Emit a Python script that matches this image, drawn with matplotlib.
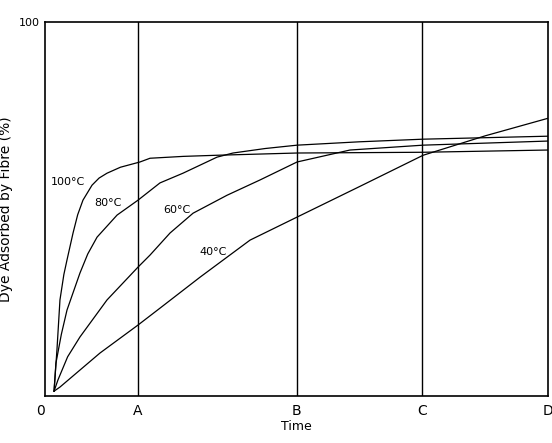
import matplotlib.pyplot as plt

# tiempo (0..D) y colorante adsorbido (%)
t100 = [0.072, 0.095, 0.119, 0.150, 0.175, 0.223, 0.260, 0.302, 0.374, 0.430, 0.493, 0.600, 0.755, 0.835, 1.100, 1.368, 2.004, 3.006, 4.0]
y100 = [1.3, 12.3, 25.7, 32.5, 36.4, 43.6, 48.5, 52.4, 56.4, 58.3, 59.6, 61.2, 62.6, 63.6, 64.1, 64.4, 65.0, 65.2, 65.8]

t80 = [0.072, 0.087, 0.130, 0.175, 0.278, 0.340, 0.414, 0.573, 0.740, 0.914, 1.097, 1.368, 1.495, 1.750, 2.004, 2.500, 3.006, 4.0]
y80 = [1.3, 8.8, 16.5, 23.0, 32.9, 38.0, 42.5, 48.4, 52.4, 57.0, 59.6, 63.9, 65.0, 66.2, 67.1, 68.0, 68.7, 69.5]

t60 = [0.072, 0.103, 0.180, 0.278, 0.493, 0.740, 0.835, 0.994, 1.177, 1.447, 1.710, 2.004, 2.425, 3.006, 4.0]
y60 = [1.3, 4.3, 10.5, 15.8, 25.7, 34.5, 37.7, 43.6, 48.9, 53.7, 57.8, 62.6, 65.8, 67.1, 68.2]

t40 = [0.072, 0.119, 0.437, 0.740, 0.914, 1.233, 1.630, 1.988, 2.505, 3.006, 3.500, 4.0]
y40 = [1.3, 2.4, 11.5, 19.0, 23.5, 31.8, 41.7, 47.6, 56.1, 64.4, 69.6, 74.3]

marcas = [0, 0.74, 2, 3, 4]
etiquetas = ['0', 'A', 'B', 'C', 'D']

curvas = [(t100, y100, '100°C', 0.18, 57.2),
          (t80, y80, '80°C', 0.50, 51.6),
          (t60, y60, '60°C', 1.05, 49.7),
          (t40, y40, '40°C', 1.34, 38.5)]

fig = plt.figure(figsize=(5.52, 4.43), dpi=100)
ax = fig.add_axes([0.0815, 0.106, 0.9115, 0.844])

for t, y, nombre, tx, ty in curvas:
    ax.plot(t, y, color='black', lw=0.9)
    ax.text(tx, ty, nombre, fontsize=8, ha='center', va='center')

for m in marcas[1:4]:
    ax.axvline(m, color='black', lw=1.0)

ax.set_xlim(0, 4)
ax.set_ylim(0, 100)
ax.set_xticks(marcas)
ax.set_xticklabels(etiquetas, fontsize=10)
ax.xaxis.get_majorticklabels()[0].set_horizontalalignment('right')
ax.tick_params(axis='x', length=0, pad=6)
ax.set_yticks([100])
ax.set_yticklabels(['100'], fontsize=8)
ax.tick_params(axis='y', length=0, pad=4)
ax.set_xlabel('Time', fontsize=9, labelpad=1)
ax.set_ylabel('Dye Adsorbed by Fibre (%)', fontsize=10, labelpad=4)
for s in ax.spines.values():
    s.set_linewidth(1.2)

fig.savefig('out.png', dpi=100)
